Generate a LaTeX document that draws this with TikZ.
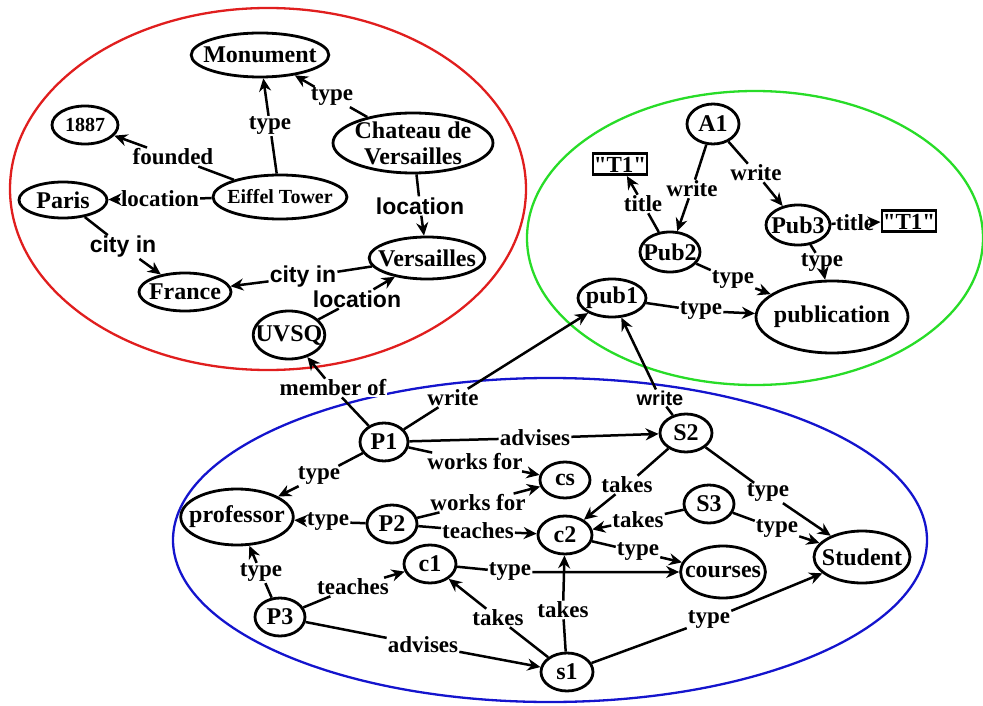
\documentclass[tikz,border=0pt]{standalone}
\usepackage{fontspec}
\setmainfont{Liberation Serif}
\newfontfamily\labelsans{Liberation Sans}
\newfontfamily\litfont{Liberation Serif}[Ligatures=TeXOff]
\usetikzlibrary{shapes.geometric,arrows.meta}
\definecolor{zonered}{RGB}{224,30,30}
\definecolor{zonegreen}{RGB}{40,220,40}
\definecolor{zoneblue}{RGB}{20,20,205}

\begin{document}
\begin{tikzpicture}[x=1pt, y=-1pt, >={Stealth[length=13pt,width=12pt]},
    ent/.style={ellipse, draw, line width=2.8pt, fill=white, inner xsep=-8pt, inner ysep=0pt, font=\fontsize{24}{26}\selectfont\bfseries},
    lit/.style={rectangle, draw, line width=2.6pt, fill=white, inner xsep=1pt, inner ysep=1pt, text height=18pt, text depth=1.5pt, font=\fontsize{23}{25}\selectfont\litfont\bfseries},
    rel/.style={fill=white, inner sep=1pt, font=\fontsize{23}{25}\selectfont\bfseries},
    srel/.style={rel, font=\fontsize{23}{25}\selectfont\labelsans\bfseries},
    link/.style={->, line width=2.5pt},
    zone/.style={line width=2.3pt}]
    \useasboundingbox (0,0) rectangle (983,706);

    \draw[zone, zonered] (268,189) ellipse [x radius=258, y radius=181];
    \draw[zone, zonegreen] (755,238) ellipse [x radius=228, y radius=147];
    \draw[zone, zoneblue] (550,540) ellipse [x radius=377, y radius=162];

    % places
    \node[ent, minimum width=134pt, minimum height=44pt] (Mo) at (260,55) {Monument};
    \node[ent, minimum width=66pt, minimum height=38pt, font=\fontsize{20}{22}\selectfont\bfseries] (Y) at (85,125) {1887};
    \node[ent, minimum width=160pt, minimum height=60pt, inner ysep=-5pt, align=center, font=\fontsize{24}{26}\selectfont\bfseries] (Ch) at (413,143) {Chateau de\\Versailles};
    \node[ent, minimum width=134pt, minimum height=44pt, font=\fontsize{20}{22}\selectfont\bfseries] (ET) at (280,197) {Eiffel Tower};
    \node[ent, minimum width=88pt, minimum height=36pt] (Pa) at (63,200) {Paris};
    \node[ent, minimum width=92pt, minimum height=38pt] (Fr) at (185,292) {France};
    \node[ent, minimum width=106pt, minimum height=42pt] (Ve) at (427,258) {Versailles};
    \node[ent, minimum width=68pt, minimum height=48pt] (U) at (289,335) {UVSQ};

    % publications
    \node[ent, minimum width=52pt, minimum height=40pt] (A1) at (713,124) {A1};
    \node[lit] (Ta) at (620,164) {"T1"};
    \node[ent, minimum width=60pt, minimum height=40pt] (Pb2) at (670,252) {Pub2};
    \node[ent, minimum width=64pt, minimum height=40pt] (Pb3) at (798,225) {Pub3};
    \node[lit] (Tb) at (909,221) {"T1"};
    \node[ent, minimum width=68pt, minimum height=38pt] (Pb1) at (612,298) {pub1};
    \node[ent, minimum width=152pt, minimum height=72pt] (Pub) at (832,317) {publication};

    % university
    \node[ent, minimum width=48pt, minimum height=38pt] (P1) at (384,442) {P1};
    \node[ent, minimum width=50pt, minimum height=36pt] (cs) at (565,480) {cs};
    \node[ent, minimum width=100pt, minimum height=56pt] (Pr) at (237,517) {professor};
    \node[ent, minimum width=50pt, minimum height=38pt] (P2) at (392,524) {P2};
    \node[ent, minimum width=54pt, minimum height=38pt] (c2) at (565,535) {c2};
    \node[ent, minimum width=52pt, minimum height=38pt] (c1) at (430,564) {c1};
    \node[ent, minimum width=50pt, minimum height=38pt] (P3) at (280,617) {P3};
    \node[ent, minimum width=52pt, minimum height=38pt] (s1) at (567,672) {s1};
    \node[ent, minimum width=52pt, minimum height=38pt] (S2) at (686,433) {S2};
    \node[ent, minimum width=50pt, minimum height=38pt] (S3) at (709,504) {S3};
    \node[ent, minimum width=84pt, minimum height=52pt] (Co) at (723,572) {courses};
    \node[ent, minimum width=96pt, minimum height=52pt] (St) at (862,557) {Student};

    % edges, red zone
    \node[rel] (e1) at (270,126) {type};
    \draw[link] (ET) -- (e1) -- (Mo);
    \node[rel] (e2) at (332,97) {type};
    \draw[link] (Ch) -- (e2) -- (Mo);
    \node[rel] (e3) at (173,157) {founded};
    \draw[link] (ET) -- (e3) -- (Y);
    \node[rel] (e4) at (160,199) {location};
    \draw[link] (ET) -- (e4) -- (Pa);
    \node[srel] (e5) at (420,206) {location};
    \draw[link] (Ch) -- (e5) -- (Ve);
    \node[srel] (e6) at (123,247) {city in};
    \draw[link] (Pa) -- (e6) -- (Fr);
    \node[srel] (e7) at (303,277) {city in};
    \draw[link] (Ve) -- (e7) -- (Fr);
    \node[srel] (e8) at (357,299) {location};
    \draw[link] (U) -- (e8) -- (Ve);
    \node[rel] (e9) at (333,388) {member of};
    \draw[link] (P1) -- (e9) -- (U);

    % edges, green zone
    \node[rel] (g1) at (692,189) {write};
    \draw[link] (A1) -- (g1) -- (Pb2);
    \node[rel] (g2) at (756,173) {write};
    \draw[link] (A1) -- (g2) -- (Pb3);
    \node[rel] (g3) at (643,204) {title};
    \draw[link] (Pb2) -- (g3) -- (Ta);
    \node[rel, inner xsep=0pt] (g4) at (855,223) {title};
    \draw[link] (Pb3) -- (g4) -- (Tb);
    \node[rel] (g5) at (822,263) {type};
    \draw[link] (Pb3) -- (g5) -- (Pub);
    \node[rel] (g6) at (733,280) {type};
    \draw[link] (Pb2) -- (g6) -- (Pub);
    \node[rel] (g7) at (701,311) {type};
    \draw[link] (Pb1) -- (g7) -- (Pub);

    % edges, blue zone
    \node[rel] (b1) at (453,398) {write};
    \draw[link] (P1) -- (b1) -- (Pb1);
    \node[srel, font=\fontsize{20}{22}\selectfont\labelsans\bfseries] (b2) at (660,398) {write};
    \draw[link] (S2) -- (b2) -- (Pb1);
    \node[rel] (b3) at (535,438) {advises};
    \draw[link] (P1) -- (b3) -- (S2);
    \node[rel] (b4) at (475,462) {works for};
    \draw[link] (P1) -- (b4) -- (cs);
    \node[rel] (b5) at (319,476) {type};
    \draw[link] (P1) -- (b5) -- (Pr);
    \node[rel] (b6) at (478,503) {works for};
    \draw[link] (P2) -- (b6) -- (cs);
    \node[rel] (b7) at (328,522) {type};
    \draw[link] (P2) -- (b7) -- (Pr);
    \node[rel] (b8) at (478,531) {teaches};
    \draw[link] (P2) -- (b8) -- (c2);
    \node[rel] (b9) at (261,573) {type};
    \draw[link] (P3) -- (b9) -- (Pr);
    \node[rel] (b10) at (353,587) {teaches};
    \draw[link] (P3) -- (b10) -- (c1);
    \node[rel] (b11) at (510,572) {type};
    \draw[link] (c1) -- (b11) -- (Co);
    \node[rel] (b12) at (498,618) {takes};
    \draw[link] (s1) -- (b12) -- (c1);
    \node[rel] (b13) at (563,610) {takes};
    \draw[link] (s1) -- (b13) -- (c2);
    \node[rel] (b14) at (423,645) {advises};
    \draw[link] (P3) -- (b14) -- (s1);
    \node[rel] (b15) at (627,485) {takes};
    \draw[link] (S2) -- (b15) -- (c2);
    \node[rel] (b16) at (638,520) {takes};
    \draw[link] (S3) -- (b16) -- (c2);
    \node[rel] (b17) at (768,493) {type};
    \draw[link] (S2) -- (b17) -- (St);
    \node[rel] (b18) at (777,529) {type};
    \draw[link] (S3) -- (b18) -- (St);
    \node[rel] (b19) at (638,552) {type};
    \draw[link] (c2) -- (b19) -- (Co);
    \node[rel] (b20) at (709,620) {type};
    \draw[link] (s1) -- (b20) -- (St);
\end{tikzpicture}
\end{document}
